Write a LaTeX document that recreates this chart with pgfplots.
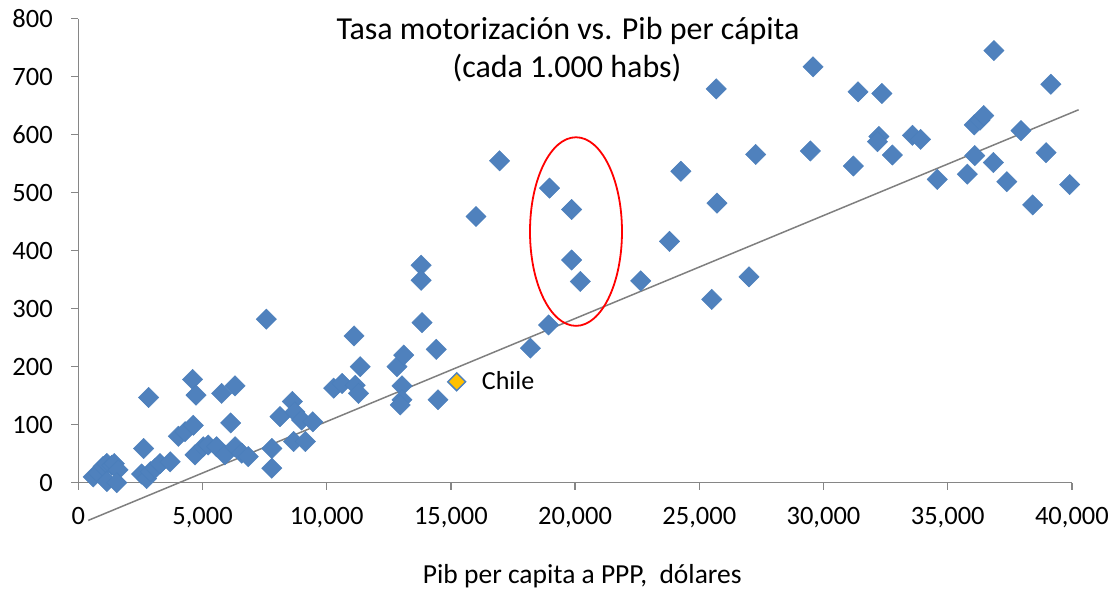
\documentclass[border=0pt]{standalone}
\usepackage{fontspec}
\setmainfont{Carlito}
\usepackage{pgfplots}
\pgfplotsset{compat=1.18}
\definecolor{ptblue}{HTML}{4F81BD}
\definecolor{ptedge}{HTML}{4A7EBB}
\definecolor{axgray}{HTML}{868686}
\definecolor{trend}{HTML}{7F7F7F}
\definecolor{chile}{HTML}{FFC000}
\begin{document}
\begin{tikzpicture}
\useasboundingbox (-78.3pt,-109.3pt) rectangle (1038.7pt,482.7pt);
\begin{axis}[
  at={(0,0)}, anchor=south west,
  scale only axis, width=993.6pt, height=464pt,
  xmin=0, xmax=40000, ymin=0, ymax=800,
  axis x line*=bottom, axis y line*=left,
  axis line style={draw=axgray, line width=1.5pt, -},
  xtick={0,5000,...,40000}, ytick={0,100,...,800},
  tick style={draw=axgray, line width=1.5pt},
  tick align=outside, major tick length=7pt,
  scaled x ticks=false,
  /pgf/number format/1000 sep={,},
  /pgf/number format/assume math mode=true,
  tick label style={font=\fontsize{26.5}{30}\selectfont},
  xticklabel style={yshift=-14pt},
  yticklabel style={xshift=-15pt},
  clip=false,
]
\addplot[only marks, mark=square*, mark size=7.2pt,
  mark options={rotate=45, fill=ptblue, draw=ptedge, line width=0.4pt}]
coordinates {
(600,10) (800,17) (1000,28) (1150,33) (1350,30) (1450,33) (1600,22)
(1150,2) (1550,0) (2550,15) (2750,7) (2630,59) (2830,147) (2900,19)
(3100,25) (3290,33) (3700,36) (4030,80) (4300,88) (4630,99) (4600,178)
(4740,151) (4700,48) (5030,62) (5230,65) (5570,62) (5770,154) (6310,167)
(6135,103) (5900,48) (6310,62) (6580,51) (6840,45) (7570,282) (7790,59)
(7790,25) (8120,114) (8615,140) (8720,122) (8990,108) (9440,105) (8670,71)
(9140,71) (10280,163) (10620,171) (11150,168) (11280,154) (11350,200)
(11100,253) (12830,200) (13100,220) (13030,167) (13030,143) (12960,134)
(13800,375) (13800,349) (13840,276) (14410,230) (14480,143) (16010,459)
(16960,555) (18200,232) (18930,272) (18970,508) (19860,471) (19860,384)
(20210,347) (22640,348) (23800,416) (24260,537) (25500,316) (25710,482)
(25680,679) (27000,355) (27270,566) (29470,572) (29580,717) (31200,546)
(31390,674) (32350,671) (32230,597) (32170,588) (32770,565) (33580,599)
(33910,592) (34580,523) (35790,532) (36070,617) (36300,625) (36450,633)
(36090,564) (36840,552) (36860,745) (37380,519) (37950,607) (38420,479)
(38960,569) (39150,687) (39910,514)
};
\addplot[only marks, mark=square*, mark size=6.3pt,
  mark options={rotate=45, fill=chile, draw=ptblue, line width=1.5pt}]
coordinates {(15233,174)};
\addplot[trend, line width=1.5pt, no marks] coordinates {(400,-65) (40270,643)};
\draw[red, line width=1.8pt] (axis cs:20036,433) ellipse [x radius=46pt, y radius=94.3pt];
\node[anchor=base west, inner sep=0pt, font=\fontsize{26}{30}\selectfont] at (axis cs:16240,160) {Chile};
\node[anchor=base, inner sep=0pt, font=\fontsize{32}{36}\selectfont] at (axis cs:19714,763.3) {Tasa motorización vs. Pib per cápita};
\node[anchor=base, inner sep=0pt, font=\fontsize{32}{36}\selectfont] at (axis cs:19674,697.8) {(cada 1.000 habs)};
\node[anchor=base, inner sep=0pt, font=\fontsize{27.5}{31}\selectfont] at (axis cs:20290,-173) {Pib per capita a PPP,\ \ dólares};
\end{axis}
\end{tikzpicture}
\end{document}
